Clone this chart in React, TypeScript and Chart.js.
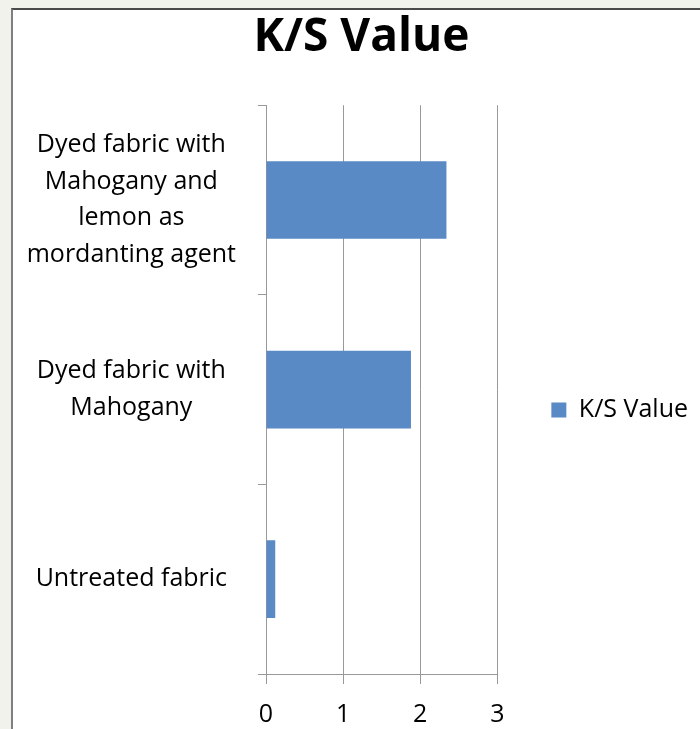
import React, { useEffect, useRef } from "react";
import { Chart, registerables } from "chart.js";

Chart.register(...registerables);

const categories: string[][] = [
  ["Dyed fabric with", "Mahogany and", "lemon as", "mordanting agent"],
  ["Dyed fabric with", "Mahogany"],
  ["Untreated fabric"],
];
const seriesName = "K/S Value";
const values: number[] = [2.34, 1.88, 0.12];
const xMin = 0;
const xMax = 3;
const xStep = 1;

const FONT = "'Open Sans', sans-serif";

// Let the right-hand legend keep its full width (Chart.js caps vertical boxes at 1/4 of the canvas).
const legendWidthPlugin = {
  id: "legendWidth",
  beforeLayout(chart: any) {
    const lg: any = chart.legend;
    if (lg && !lg.__patched) {
      lg.__patched = true;
      const orig = lg.fit.bind(lg);
      lg.fit = function () {
        orig();
        if (this.columnSizes && this.columnSizes.length) {
          this.width = this.columnSizes[0].width + this.options.labels.padding + 10;
        }
      };
    }
  },
};

export default function App() {
  const ref = useRef<HTMLCanvasElement | null>(null);

  useEffect(() => {
    document.documentElement.style.margin = "0";
    document.body.style.margin = "0";
    document.body.style.background = "#f2f2ec";
    const canvas = ref.current;
    if (!canvas) return;
    const chart = new Chart(canvas, {
      type: "bar",
      data: {
        labels: categories,
        datasets: [
          {
            label: seriesName,
            data: values,
            backgroundColor: "#5a8ac6",
            borderWidth: 0,
            categoryPercentage: 1,
            barPercentage: 0.41,
          },
        ],
      },
      plugins: [legendWidthPlugin],
      options: {
        indexAxis: "y",
        animation: false,
        responsive: false,
        layout: { padding: { left: 12, right: 0, top: 0, bottom: 64 } },
        plugins: {
          title: {
            display: true,
            text: seriesName,
            color: "#000",
            font: { family: FONT, size: 46, weight: "bold" },
            padding: { top: 0, bottom: 40 },
          },
          legend: {
            display: true,
            position: "right",
            title: {
              display: true,
              text: " ",
              font: { family: FONT, size: 10, lineHeight: 1 },
              padding: { top: 54, bottom: 0 },
            },
            labels: {
              color: "#000",
              font: { family: FONT, size: 25 },
              boxWidth: 15,
              boxHeight: 15,
              padding: 54,
            },
          },
          tooltip: { enabled: false },
        },
        scales: {
          x: {
            min: xMin,
            max: xMax,
            ticks: {
              stepSize: xStep,
              color: "#000",
              font: { family: FONT, size: 25 },
              padding: 16,
            },
            grid: {
              color: "#999",
              lineWidth: 1,
              tickLength: 10,
              drawTicks: true,
            },
            border: { display: true, color: "#999", width: 1 },
          },
          y: {
            afterFit: (scale: any) => {
              scale.width = 241;
            },
            ticks: {
              color: "#000",
              font: { family: FONT, size: 25, lineHeight: 1.46 },
              crossAlign: "center",
              padding: 22,
              autoSkip: false,
            },
            grid: {
              display: true,
              drawOnChartArea: false,
              drawTicks: true,
              tickLength: 8,
              color: "#999",
              offset: true,
            },
            border: { display: true, color: "#999", width: 1 },
          },
        },
      },
    });
    return () => chart.destroy();
  }, []);

  return (
    <div style={{ position: "fixed", left: 0, top: 0, width: "100vw", height: "100vh", overflow: "hidden", background: "#f2f2ec" }}>
      <div
        style={{
          position: "absolute",
          left: 11,
          top: 8,
          width: 720,
          height: 820,
          background: "#fff",
          borderLeft: "2px solid #808080",
          borderTop: "2px solid #4a4a4a",
        }}
      >
        <canvas ref={ref} width={685} height={800} style={{ display: "block" }} />
      </div>
    </div>
  );
}
